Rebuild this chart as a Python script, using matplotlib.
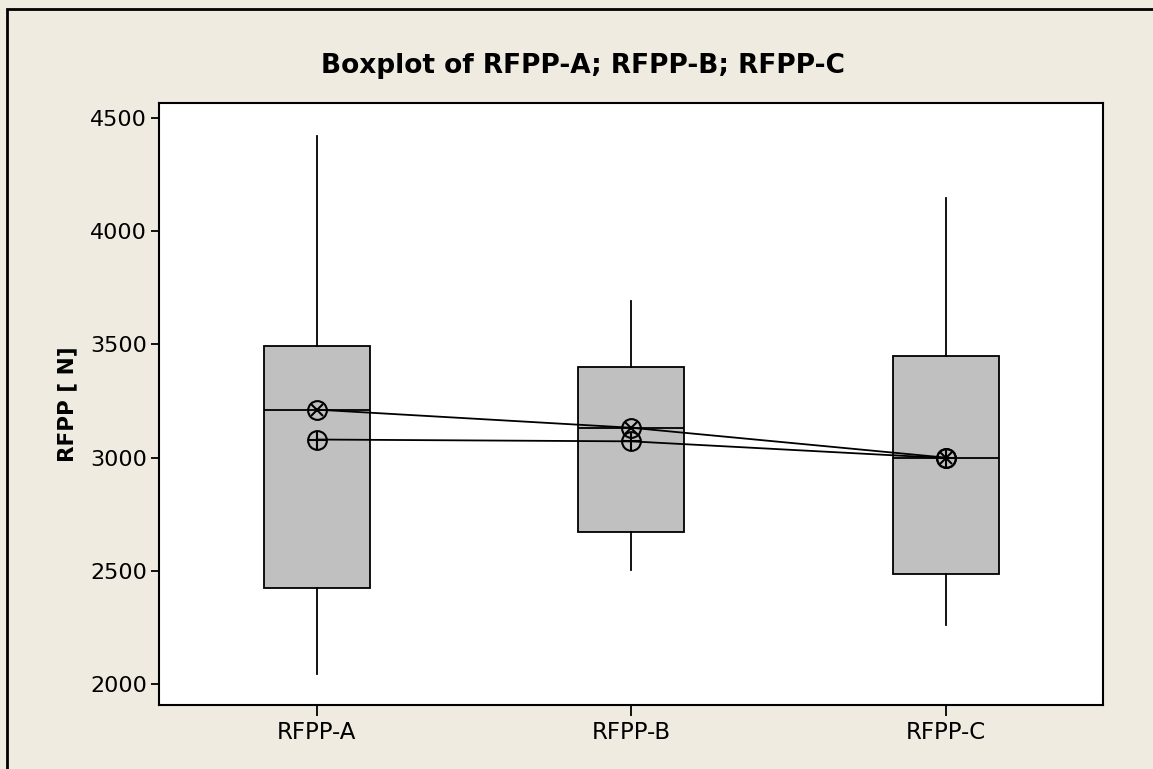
import matplotlib
matplotlib.use("Agg")
import matplotlib.pyplot as plt
from matplotlib.patches import Rectangle

categories = ["RFPP-A", "RFPP-B", "RFPP-C"]
whisker_low = [2045, 2505, 2260]
q1 = [2426, 2673, 2488]
median = [3212, 3132, 3000]
q3 = [3492, 3398, 3450]
whisker_high = [4420, 3690, 4145]
mean = [3080, 3072, 2998]
yticks = [2000, 2500, 3000, 3500, 4000, 4500]

plt.rcParams['font.family'] = ['DejaVu Sans']
fig = plt.figure(figsize=(11.53, 7.69), dpi=100)
bg = '#EFEBE1'
fig.patch.set_facecolor(bg)

W, H = 1153, 769
ax = fig.add_axes([159.3 / W, 1 - 705.3 / H, (1103.3 - 159.3) / W, (705.3 - 103.3) / H])
ax.set_facecolor('white')

stats = []
for i, c in enumerate(categories):
    stats.append(dict(label=c, whislo=whisker_low[i], q1=q1[i], med=median[i],
                      q3=q3[i], whishi=whisker_high[i], fliers=[]))
pos = list(range(1, len(categories) + 1))
ax.bxp(stats, positions=pos, widths=0.337, patch_artist=True, showcaps=False,
       boxprops=dict(facecolor='#C0C0C0', edgecolor='black', linewidth=1.3),
       medianprops=dict(color='black', linewidth=1.3),
       whiskerprops=dict(color='black', linewidth=1.3))

# median connect line with circle-x symbol
ax.plot(pos, median, color='black', lw=1.3, zorder=4)
ax.plot(pos, median, ls='none', marker='o', ms=13.5, mfc='none', mec='black', mew=1.5, zorder=5)
ax.plot(pos, median, ls='none', marker='x', ms=9, mec='black', mew=1.5, zorder=5)
# mean connect line with circle-plus symbol
ax.plot(pos, mean, color='black', lw=1.3, zorder=4)
ax.plot(pos, mean, ls='none', marker='o', ms=13.5, mfc='none', mec='black', mew=1.5, zorder=5)
ax.plot(pos, mean, ls='none', marker='+', ms=13.5, mec='black', mew=1.5, zorder=5)

ax.set_xlim(0.5, 3.5)
ax.set_ylim(1907, 4564)
ax.set_yticks(yticks)
ax.set_yticklabels([str(v) for v in yticks], fontsize=16)
ax.set_xticks(pos)
ax.set_xticklabels(categories, fontsize=16.5)
ax.tick_params(axis='y', length=6, width=1.3, pad=3)
ax.tick_params(axis='x', length=8, width=1.3, pad=3)
for s in ax.spines.values():
    s.set_linewidth(1.5)
ax.set_ylabel("RFPP [ N]", fontsize=15.5, fontweight='bold', labelpad=9)
fig.text(583 / W, 1 - 66 / H, "Boxplot of RFPP-A; RFPP-B; RFPP-C", fontsize=19,
         fontweight='bold', ha='center', va='center')

# outer frame (left and top edges visible)
fig.add_artist(Rectangle((7.3 / W, -0.5), 1.5, 1.5 - 9.3 / H, transform=fig.transFigure,
                         fill=False, edgecolor='black', linewidth=2))

fig.savefig("out.png", dpi=100, facecolor=bg)
